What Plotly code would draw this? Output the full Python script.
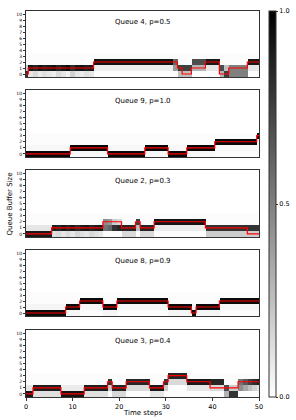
import plotly.graph_objects as go

# ---------------- data ----------------
time_steps = list(range(51))
levels = list(range(11))
x_ticks = [0, 10, 20, 30, 40, 50]
y_ticks = list(range(11))
cbar_ticks = [0.0, 0.5, 1.0]
cbar_labels = ["0.0", "0.5", "1.0"]

titles = ["Queue 4, p=0.5", "Queue 9, p=1.0", "Queue 2, p=0.3",
          "Queue 8, p=0.9", "Queue 3, p=0.4"]

# true queue sizes (red step lines)
red1 = [0] + [1]*14 + [2]*18 + [1] + [0]*2 + [1]*3 + [2]*3 + [0]*2 + [1]*4 + [2]*3
red2 = [0]*10 + [1]*8 + [0]*8 + [1]*5 + [0]*4 + [1]*6 + [2]*9 + [3]
red3 = [0]*6 + [1]*11 + [2]*4 + [1]*3 + [2] + [1]*3 + [2]*11 + [1]*9 + [0]*3
red4 = [0]*9 + [1]*3 + [2]*5 + [1]*3 + [2]*11 + [1]*5 + [0] + [1]*5 + [2]*9
red5 = [0]*2 + [1]*6 + [0]*5 + [1]*5 + [2] + [1]*3 + [2]*5 + [1]*3 + [2] + [3]*4 + [2]*5 + [1]*6 + [2]*5

# predicted distribution: most likely level, its probability, second level
pred1 = [0] + [1]*14 + [2]*18 + [1]*3 + [2]*6 + [1] + [0] + [1]*4 + [2]*3
conf1 = ([0.8] + [0.9, 0.85, 0.92, 0.88, 0.9, 0.93, 0.85, 0.9, 0.95, 0.82, 0.9, 0.92, 0.88, 0.9]
         + [0.93]*17 + [0.6] + [0.75]*3 + [0.7]*3 + [0.9]*3 + [0.7] + [0.75] + [0.5]*4 + [0.9]*3)
alt1 = [1] + [0]*14 + [1]*17 + [1] + [0]*3 + [1]*3 + [1]*3 + [0] + [1] + [0]*4 + [1]*3

pred2 = [0]*10 + [1]*8 + [0]*8 + [1]*5 + [0]*4 + [1]*6 + [2]*9 + [3]
conf2 = [0.97]*51
alt2 = [1]*10 + [0]*8 + [1]*8 + [0]*5 + [1]*4 + [0]*6 + [1]*9 + [2]

pred3 = [0]*6 + [1]*11 + [1]*4 + [1]*3 + [2] + [1]*3 + [2]*11 + [1]*12
conf3 = ([0.9]*6 + [0.88, 0.85, 0.9, 0.86, 0.9, 0.84, 0.88, 0.9, 0.85, 0.88, 0.9]
         + [0.55, 0.6, 0.8, 0.85] + [0.85]*3 + [0.75] + [0.85]*3 + [0.92]*11 + [0.8]*12)
alt3 = [1]*6 + [0]*11 + [2]*4 + [0]*3 + [1] + [0]*3 + [1]*11 + [0]*12

pred4 = [0]*9 + [1]*3 + [2]*5 + [1]*3 + [2]*11 + [1]*5 + [0] + [1]*5 + [2]*9
conf4 = [0.96]*51
alt4 = [1]*9 + [0]*3 + [1]*5 + [0]*3 + [1]*11 + [0]*5 + [1] + [0]*5 + [1]*9

pred5 = [0]*2 + [1]*6 + [0]*5 + [1]*5 + [2] + [1]*3 + [2]*5 + [1]*3 + [2] + [3]*4 + [2]*5 + [2]*3 + [1] + [0]*2 + [2]*5
conf5 = ([0.9]*2 + [0.88]*6 + [0.92]*5 + [0.88]*5 + [0.8] + [0.85]*3 + [0.85]*5 + [0.9]*3
         + [0.8] + [0.85]*4 + [0.9]*5 + [0.85]*3 + [0.7] + [0.8]*2 + [0.55, 0.65, 0.75, 0.82, 0.88])
alt5 = [1]*2 + [0]*6 + [1]*5 + [0]*5 + [1] + [0]*3 + [1]*5 + [0]*3 + [1] + [2]*4 + [1]*5 + [1]*3 + [0] + [1]*2 + [1]*5

haze_levels = 4
haze_value = 0.012

reds = [red1, red2, red3, red4, red5]
preds = [pred1, pred2, pred3, pred4, pred5]
confs = [conf1, conf2, conf3, conf4, conf5]
alts = [alt1, alt2, alt3, alt4, alt5]


def build_z(pred, conf, alt):
    z = [[(haze_value if lv < haze_levels else 0.0) for _ in time_steps] for lv in levels]
    for t in time_steps:
        z[pred[t]][t] = conf[t]
        z[alt[t]][t] = max(z[alt[t]][t], 1 - conf[t])
    return z


# ---------------- layout ----------------
W, H = 296, 420
ML, MR, MT, MB = 26, 37, 11, 23
PW = W - ML - MR
PH = H - MT - MB
panel_px = [(11, 77), (90, 157), (170, 237), (250, 316), (330, 397)]
FONT = "DejaVu Sans"
AXC = "#333333"

fig = go.Figure()
layout = dict(
    width=W, height=H,
    margin=dict(l=ML, r=MR, t=MT, b=MB, pad=0, autoexpand=False),
    paper_bgcolor="white", plot_bgcolor="white",
    font=dict(family=FONT, color="black"),
    showlegend=False,
    coloraxis=dict(
        colorscale=[[0, "#ffffff"], [1, "#000000"]], cmin=0, cmax=1,
        colorbar=dict(
            x=(269 - ML) / PW, xanchor="left", xpad=0,
            y=0.5, yanchor="middle", ypad=0,
            len=1.0, lenmode="fraction", thickness=7,
            outlinewidth=1, outlinecolor=AXC,
            tickvals=cbar_ticks, ticktext=cbar_labels,
            ticks="outside", ticklen=2, tickcolor=AXC, tickwidth=0.8,
            tickfont=dict(size=6.5, family=FONT, color="black"),
        ),
    ),
)

annotations = []
for i in range(5):
    n = "" if i == 0 else str(i + 1)
    top, bot = panel_px[i]
    y0 = (H - MB - bot) / PH
    y1 = (H - MB - top) / PH
    last = i == 4
    layout["xaxis" + n] = dict(
        domain=[0, 1], anchor="y" + n, range=[0, 50],
        showgrid=False, zeroline=False, showline=True, mirror=True,
        linecolor=AXC, linewidth=1,
        tickvals=x_ticks if last else [],
        showticklabels=last, ticks="outside" if last else "",
        ticklen=3, tickcolor=AXC, tickwidth=0.8,
        tickfont=dict(size=6.5, family=FONT, color="black"),
    )
    layout["yaxis" + n] = dict(
        domain=[y0, y1], anchor="x" + n, range=[-0.5, 10.5],
        showgrid=False, zeroline=False, showline=True, mirror=True,
        linecolor=AXC, linewidth=1,
        tickvals=y_ticks, ticks="outside", ticklen=2, tickcolor=AXC, tickwidth=0.6,
        tickfont=dict(size=4.5, family=FONT, color="black"),
    )
    fig.add_trace(go.Heatmap(
        x=time_steps, y=levels, z=build_z(preds[i], confs[i], alts[i]),
        coloraxis="coloraxis", xaxis="x" + n, yaxis="y" + n, hoverinfo="skip",
    ))
    fig.add_trace(go.Scatter(
        x=time_steps, y=reds[i], mode="lines",
        line=dict(color="red", width=1.2, shape="hvh"),
        xaxis="x" + n, yaxis="y" + n, hoverinfo="skip",
    ))
    annotations.append(dict(
        text=titles[i], xref=("x" + n + " domain"), yref=("y" + n + " domain"),
        x=0.5, y=1 - 11 / (bot - top), xanchor="center", yanchor="middle",
        showarrow=False, font=dict(size=7, family=FONT, color="black"),
    ))

annotations.append(dict(
    text="Time steps", xref="paper", yref="paper", x=0.5, y=(H - MB - 413) / PH,
    xanchor="center", yanchor="middle", showarrow=False,
    font=dict(size=7, family=FONT, color="black"),
))
annotations.append(dict(
    text="Queue Buffer Size", xref="paper", yref="paper", x=(9.5 - ML) / PW,
    y=(H - MB - 204) / PH, xanchor="center", yanchor="middle", textangle=-90,
    showarrow=False, font=dict(size=7, family=FONT, color="black"),
))
layout["annotations"] = annotations

fig.update_layout(**layout)
fig.write_html(
    "out.html",
    config={"displayModeBar": False},
    post_script="document.body.style.margin='0';document.body.style.padding='0';",
)
